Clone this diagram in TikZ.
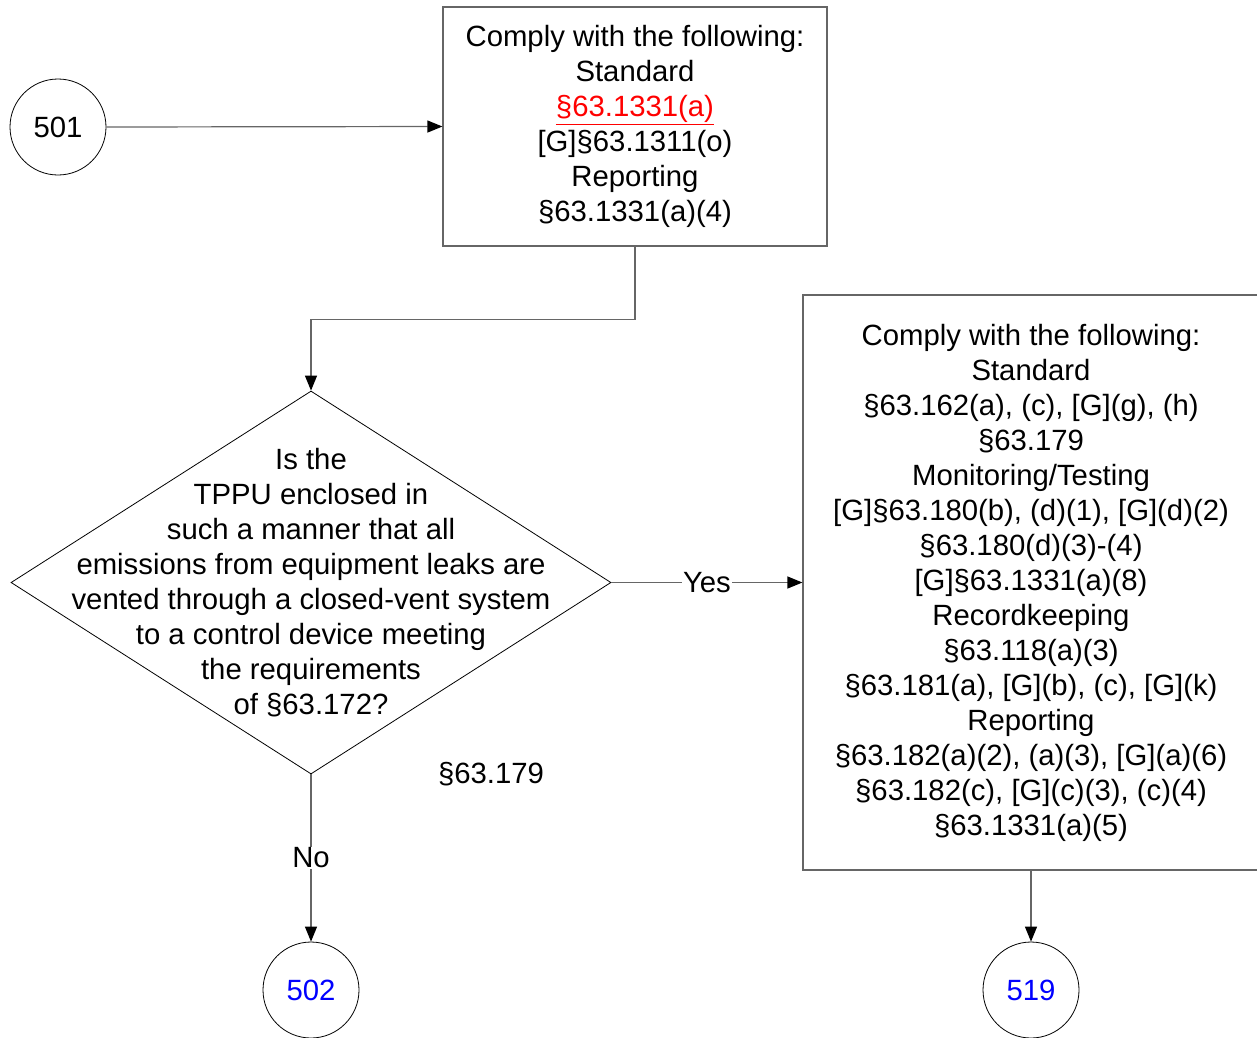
\documentclass[tikz,border=0pt]{standalone}
\usepackage{fontspec}
\setmainfont{Liberation Sans}
\usetikzlibrary{arrows.meta,shapes.geometric}
\begin{document}
\begin{tikzpicture}[x=1pt,y=-1pt]
\tikzset{
  txt/.style={font=\fontsize{29.3}{35}\selectfont, align=center, text=black},
  boxnode/.style={draw=black!60, line width=1.2pt, rectangle, inner sep=0pt},
  termnode/.style={draw=black, line width=0.8pt, circle, minimum size=96pt, inner sep=0pt, txt},
  ln/.style={draw=black!60, line width=1.2pt},
  arr/.style={ln, -{Triangle[length=15pt,width=12pt,fill=black,color=black]}},
  lbl/.style={txt, fill=white, inner sep=1pt}
}
\useasboundingbox (0,0) rectangle (1257,1037);
\node[termnode] (c501) at (58,127) {501};
\node[boxnode, minimum width=384pt, minimum height=239pt] (b1) at (635,126.5) {};
\node[txt] (t1) at (b1.center) {Comply with the following:\\Standard\\\textcolor{red}{\underline{§63.1331(a)}}\\{[G]§63.1311(o)}\\Reporting\\§63.1331(a)(4)};
\node[diamond, draw=black, line width=0.8pt, minimum width=600pt, minimum height=383pt, inner sep=0pt] (d) at (311,582.5) {};
\node[txt] (td) at (d.center) {Is the\\TPPU enclosed in\\such a manner that all\\emissions from equipment leaks are\\vented through a closed-vent system\\to a control device meeting\\the requirements\\of §63.172?};
\node[boxnode, minimum width=456pt, minimum height=575pt] (b2) at (1031,582.5) {};
\node[txt] (t2) at (b2.center) {Comply with the following:\\Standard\\§63.162(a), (c), {[G]}(g), (h)\\§63.179\\Monitoring/Testing\\{[G]§63.180(b), (d)(1), [G](d)(2)}\\§63.180(d)(3)-(4)\\{[G]§63.1331(a)(8)}\\Recordkeeping\\§63.118(a)(3)\\§63.181(a), {[G]}(b), (c), {[G]}(k)\\Reporting\\§63.182(a)(2), (a)(3), {[G]}(a)(6)\\§63.182(c), {[G]}(c)(3), (c)(4)\\§63.1331(a)(5)};
\node[txt] (ref) at (491,774) {§63.179};
\node[termnode, text=blue] (c502) at (311,990) {502};
\node[termnode, text=blue] (c519) at (1031,990) {519};
\draw[arr] (c501.east) -- (b1.west);
\draw[arr] (b1.south) -- ++(0,73) -| (d.north);
\draw[arr] (d.east) -- node[lbl] {Yes} (b2.west);
\draw[arr] (d.south) -- node[lbl] {No} (c502.north);
\draw[arr] (b2.south) -- (c519.north);
\end{tikzpicture}
\end{document}
